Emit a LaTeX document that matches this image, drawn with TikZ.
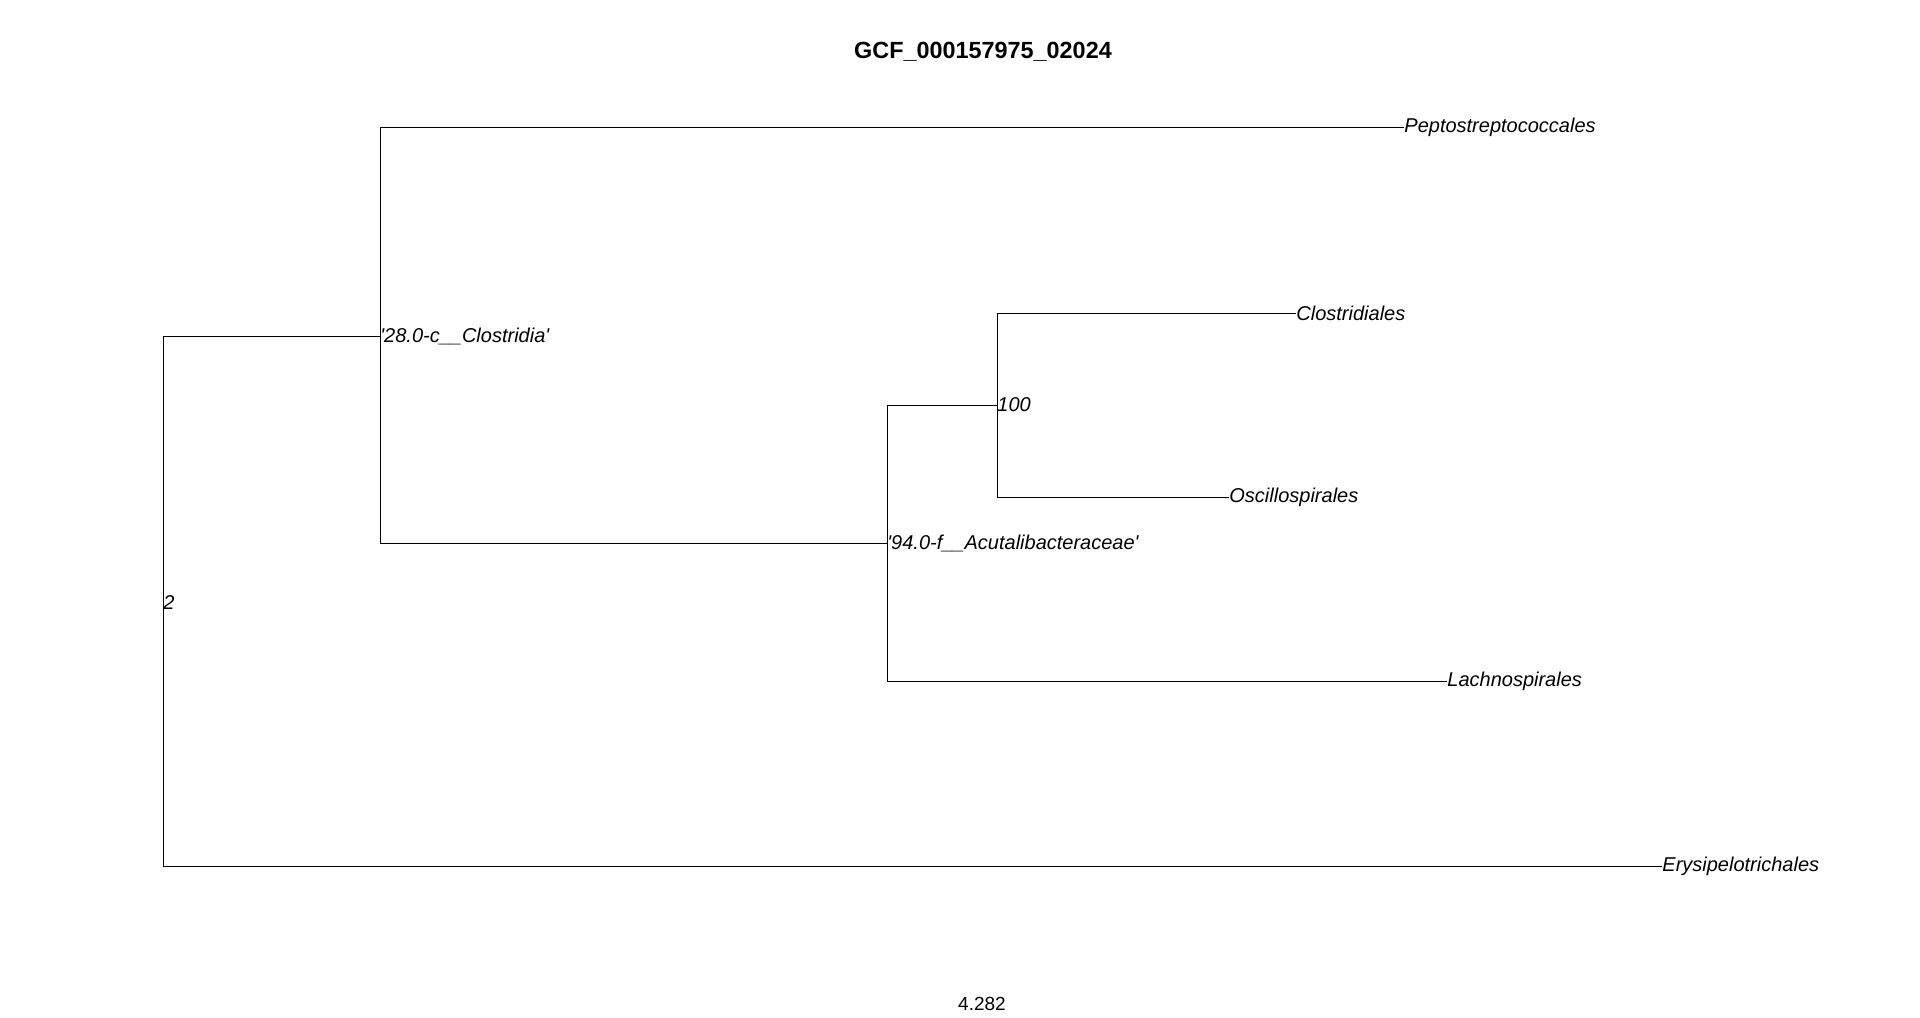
\documentclass[tikz,border=0pt]{standalone}
\usepackage{fontspec}
\setmainfont{Liberation Sans}

\tikzset{
  tip/.style={anchor=west,inner sep=0pt,font=\fontsize{10}{12}\selectfont\itshape},
  branch/.style={draw=black,line width=0.5pt}
}

\begin{document}
\begin{tikzpicture}[x=0.5pt,y=-0.5pt]
    \useasboundingbox (0,0) rectangle (1920,1017);
    \node[font=\fontsize{11.7}{14}\selectfont\bfseries] (title) at (983,52) {GCF\_000157975\_02024};
    % inner nodes
    \node[tip] (root) at (163,603) {2};
    \node[tip] (clos) at (380,336) {\textquotesingle 28.0-c\_\_Clostridia\textquotesingle};
    \node[tip] (acut) at (887,543) {\textquotesingle 94.0-f\_\_Acutalibacteraceae\textquotesingle};
    \node[tip] (n100) at (997,405) {100};
    % tips
    \node[tip] (pepto) at (1404,127) {Peptostreptococcales};
    \node[tip] (closl) at (1296,313) {Clostridiales};
    \node[tip] (oscil) at (1229,497) {Oscillospirales};
    \node[tip] (lachn) at (1447,681) {Lachnospirales};
    \node[tip] (erysi) at (1662,866) {Erysipelotrichales};
    \node[font=\fontsize{9.5}{12}\selectfont] (scale) at (982,1004) {4.282};
    \path[branch] (root.west) |- (clos.west);
    \path[branch] (root.west) |- (erysi.west);
    \path[branch] (clos.west) |- (pepto.west);
    \path[branch] (clos.west) |- (acut.west);
    \path[branch] (acut.west) |- (n100.west);
    \path[branch] (acut.west) |- (lachn.west);
    \path[branch] (n100.west) |- (closl.west);
    \path[branch] (n100.west) |- (oscil.west);
\end{tikzpicture}
\end{document}
